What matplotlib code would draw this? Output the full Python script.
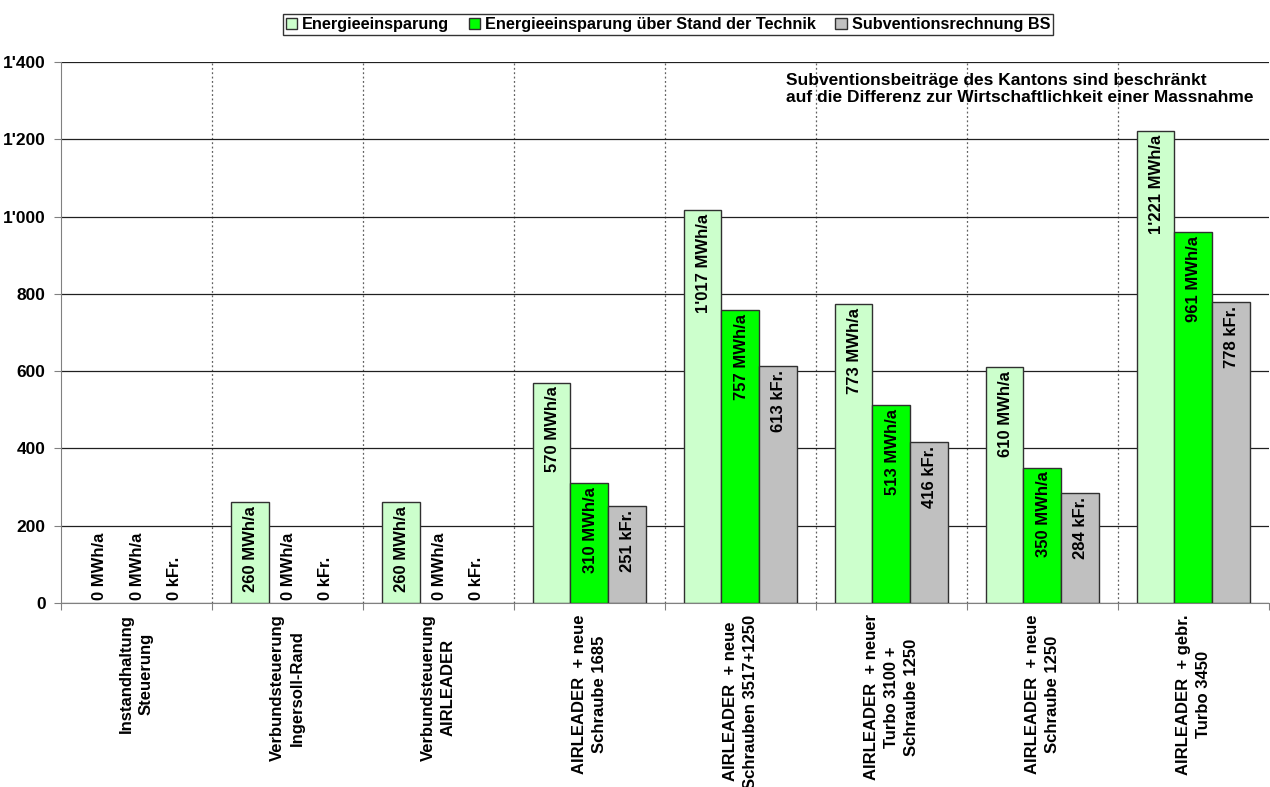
import numpy as np
import matplotlib
matplotlib.use("Agg")
import matplotlib.pyplot as plt
from matplotlib.ticker import FuncFormatter, FixedLocator
from matplotlib.patches import Patch

plt.rcParams["font.family"] = ["Liberation Sans", "DejaVu Sans"]
plt.rcParams["font.weight"] = "bold"

CATEGORIES = [
    "Instandhaltung\nSteuerung",
    "Verbundsteuerung\nIngersoll-Rand",
    "Verbundsteuerung\nAIRLEADER",
    "AIRLEADER  + neue\nSchraube 1685",
    "AIRLEADER  + neue\nSchrauben 3517+1250",
    "AIRLEADER  + neuer\nTurbo 3100 +\nSchraube 1250",
    "AIRLEADER  + neue\nSchraube 1250",
    "AIRLEADER  + gebr.\nTurbo 3450",
]
ENERGIE = [0, 260, 260, 570, 1017, 773, 610, 1221]
STAND = [0, 0, 0, 310, 757, 513, 350, 961]
SUBV = [0, 0, 0, 251, 613, 416, 284, 778]
SERIES = ["Energieeinsparung", "Energieeinsparung über Stand der Technik",
          "Subventionsrechnung BS"]
UNITS = ["MWh/a", "MWh/a", "kFr."]
COLORS = ["#CCFFCC", "#00FF00", "#C0C0C0"]
NOTE = ("Subventionsbeiträge des Kantons sind beschränkt\n"
        "auf die Differenz zur Wirtschaftlichkeit einer Massnahme")


def swiss(v):
    return f"{int(v):,}".replace(",", "'")


fig = plt.figure(figsize=(12.7, 7.87), dpi=100)
ax = fig.add_axes([0.048, 0.234, 0.951, 0.687])

x = np.arange(len(CATEGORIES))
w = 0.25
for k, (vals, col, unit) in enumerate(zip([ENERGIE, STAND, SUBV], COLORS, UNITS)):
    xs = x + (k - 1) * w
    edges = ["#303030" if v > 0 else "none" for v in vals]
    ax.bar(xs, vals, width=w, color=col, edgecolor=edges, linewidth=1.0, zorder=3)
    for xi, v in zip(xs, vals):
        txt = f"{swiss(v)} {unit}"
        if v > 0:
            ax.text(xi + 0.005, v - 10, txt, rotation=90, ha="center", va="top",
                    fontsize=12, fontweight="bold", zorder=4)
        else:
            ax.text(xi + 0.005, 8, txt, rotation=90, ha="center", va="bottom",
                    fontsize=12, fontweight="bold", zorder=4)

ax.set_xlim(-0.5, len(CATEGORIES) - 0.5)
ax.set_ylim(0, 1400)
ax.set_yticks(np.arange(0, 1401, 200))
ax.yaxis.set_major_formatter(FuncFormatter(lambda v, p: swiss(v)))
ax.yaxis.grid(True, color="#202020", linewidth=0.9, zorder=0)

bounds = np.arange(-0.5, len(CATEGORIES) + 0.5, 1.0)
for b in bounds[1:-1]:
    ax.axvline(b, color="#606060", linestyle=(0, (1.5, 2)), linewidth=0.9, zorder=1)

ax.xaxis.set_major_locator(FixedLocator(bounds))
ax.xaxis.set_major_formatter(FuncFormatter(lambda v, p: ""))
ax.tick_params(axis="x", length=5, color="#808080")
ax.tick_params(axis="y", length=5, color="#808080", labelsize=12.5, pad=6)
for lbl in ax.get_yticklabels():
    lbl.set_fontweight("bold")

for i, c in enumerate(CATEGORIES):
    ax.text(i, -30, c, rotation=90, ha="center", va="top", multialignment="center",
            fontsize=12, fontweight="bold", linespacing=1.4)

for s in ["top", "right"]:
    ax.spines[s].set_visible(False)
for s in ["left", "bottom"]:
    ax.spines[s].set_color("#808080")

ax.text(4.3, 1372, NOTE, ha="left", va="top", fontsize=12.5, fontweight="bold",
        linespacing=1.15)

handles = [Patch(facecolor=c, edgecolor="#303030", label=l) for c, l in zip(COLORS, SERIES)]
leg = fig.legend(handles=handles, loc="upper center", bbox_to_anchor=(0.526, 0.993),
                 ncol=3, frameon=True, fancybox=False, edgecolor="black",
                 handlelength=0.7, handleheight=0.7, handletextpad=0.3,
                 columnspacing=1.2, borderpad=0.2,
                 prop={"weight": "bold", "size": 11.7})
leg.get_frame().set_linewidth(1.0)

fig.savefig("out.png", dpi=100, facecolor="white")
